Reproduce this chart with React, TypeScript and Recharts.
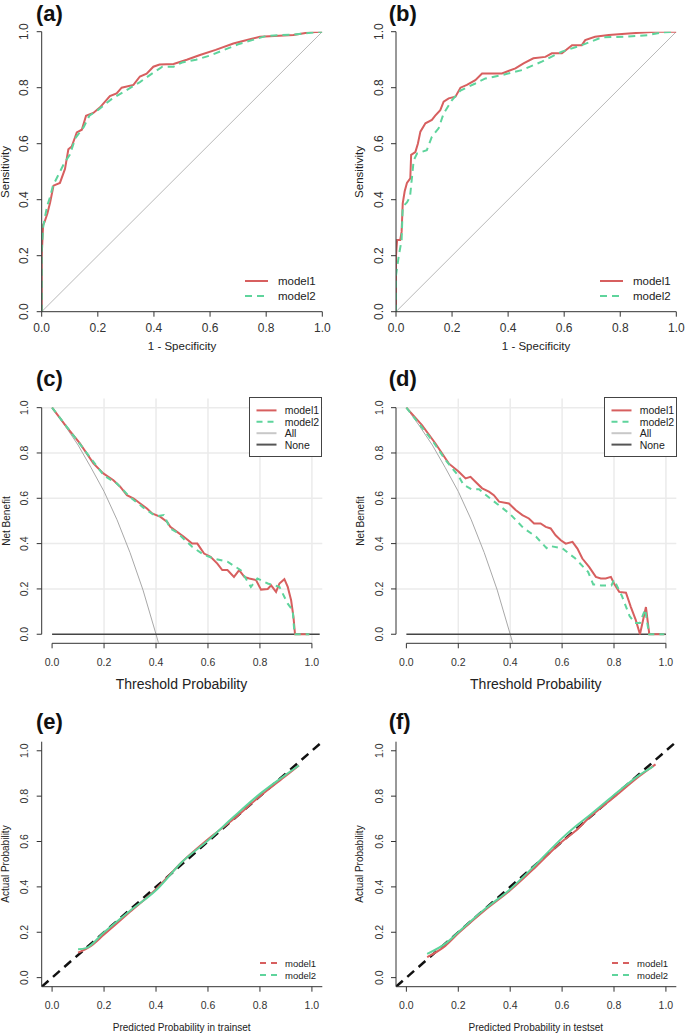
import React from 'react';
import { LineChart, Line, XAxis, YAxis, ReferenceLine, CartesianGrid, Legend } from 'recharts';

const RED = '#d75f5f';
const GREEN = '#5ed49c';
const AXIS = '#333333';
const FONT = '"Liberation Sans", Arial, Helvetica, sans-serif';

const TICKS = [0, 0.2, 0.4, 0.6, 0.8, 1.0];
const GRID_VALUES = [0.2, 0.4, 0.6, 0.8, 1.0];

// ROC, train set (a)
const rocTrainFpr1 = [0, 0, 0.005, 0.01, 0.02, 0.03, 0.042, 0.065, 0.083, 0.095, 0.107, 0.125, 0.143, 0.158, 0.184, 0.208, 0.243, 0.267, 0.285, 0.327, 0.35, 0.374, 0.398, 0.42, 0.47, 0.517, 0.564, 0.62, 0.683, 0.742, 0.778, 0.897, 0.956, 1];
const rocTrainTpr1 = [0, 0.2, 0.31, 0.32, 0.35, 0.39, 0.45, 0.46, 0.51, 0.58, 0.59, 0.64, 0.65, 0.7, 0.71, 0.73, 0.77, 0.78, 0.8, 0.81, 0.84, 0.85, 0.875, 0.883, 0.885, 0.9, 0.917, 0.935, 0.958, 0.973, 0.982, 0.988, 0.998, 1];
const rocTrainFpr2 = [0, 0, 0.005, 0.01, 0.02, 0.03, 0.04, 0.06, 0.08, 0.1, 0.12, 0.15, 0.17, 0.2, 0.25, 0.3, 0.35, 0.4, 0.43, 0.47, 0.5, 0.55, 0.6, 0.65, 0.7, 0.75, 0.8, 0.9, 0.95, 1];
const rocTrainTpr2 = [0, 0.22, 0.3, 0.33, 0.38, 0.41, 0.45, 0.49, 0.53, 0.56, 0.62, 0.66, 0.7, 0.72, 0.76, 0.79, 0.82, 0.855, 0.875, 0.875, 0.89, 0.9, 0.915, 0.935, 0.955, 0.97, 0.985, 0.99, 0.995, 1];

// ROC, test set (b)
const rocTestFpr1 = [0, 0, 0.004, 0.015, 0.02, 0.024, 0.031, 0.039, 0.051, 0.054, 0.069, 0.078, 0.087, 0.105, 0.128, 0.14, 0.158, 0.17, 0.188, 0.212, 0.23, 0.253, 0.283, 0.307, 0.378, 0.426, 0.455, 0.49, 0.533, 0.556, 0.592, 0.628, 0.663, 0.675, 0.71, 0.759, 0.83, 0.925, 1];
const rocTestTpr1 = [0, 0.2, 0.256, 0.256, 0.285, 0.387, 0.43, 0.46, 0.476, 0.56, 0.57, 0.6, 0.643, 0.673, 0.685, 0.7, 0.72, 0.75, 0.762, 0.768, 0.8, 0.81, 0.827, 0.851, 0.851, 0.869, 0.887, 0.905, 0.91, 0.923, 0.923, 0.952, 0.952, 0.97, 0.982, 0.988, 0.994, 1, 1];
const rocTestFpr2 = [0, 0, 0.01, 0.02, 0.024, 0.039, 0.05, 0.063, 0.075, 0.11, 0.128, 0.152, 0.17, 0.2, 0.23, 0.283, 0.319, 0.378, 0.45, 0.52, 0.592, 0.663, 0.735, 0.818, 0.9, 0.95, 1];
const rocTestTpr2 = [0, 0.13, 0.2, 0.256, 0.375, 0.39, 0.41, 0.54, 0.565, 0.577, 0.625, 0.655, 0.708, 0.756, 0.79, 0.815, 0.833, 0.845, 0.863, 0.893, 0.929, 0.952, 0.98, 0.982, 0.988, 0.998, 1];

// decision curves, train set (c)
const dcaTrainT1 = [0, 0.055, 0.107, 0.159, 0.197, 0.236, 0.262, 0.288, 0.314, 0.339, 0.365, 0.385, 0.417, 0.443, 0.455, 0.481, 0.507, 0.539, 0.559, 0.585, 0.61, 0.636, 0.655, 0.675, 0.7, 0.72, 0.74, 0.759, 0.785, 0.804, 0.83, 0.843, 0.862, 0.875, 0.894, 0.907, 0.92, 0.929, 0.935, 0.99];
const dcaTrainNb1 = [1.0, 0.916, 0.842, 0.754, 0.71, 0.68, 0.651, 0.614, 0.599, 0.577, 0.555, 0.533, 0.518, 0.496, 0.474, 0.452, 0.43, 0.4, 0.4, 0.356, 0.342, 0.312, 0.283, 0.283, 0.253, 0.283, 0.253, 0.246, 0.239, 0.197, 0.2, 0.216, 0.187, 0.224, 0.243, 0.209, 0.15, 0.077, 0, 0];
const dcaTrainT2 = [0, 0.1, 0.2, 0.25, 0.3, 0.35, 0.4, 0.43, 0.455, 0.48, 0.539, 0.585, 0.623, 0.675, 0.726, 0.765, 0.79, 0.83, 0.875, 0.907, 0.926, 0.933, 0.99];
const dcaTrainNb2 = [1.0, 0.85, 0.7, 0.665, 0.605, 0.56, 0.52, 0.526, 0.467, 0.45, 0.386, 0.35, 0.334, 0.32, 0.283, 0.209, 0.246, 0.224, 0.209, 0.135, 0.106, 0, 0];

// decision curves, test set (d)
const dcaTestT1 = [0, 0.06, 0.112, 0.163, 0.202, 0.228, 0.247, 0.266, 0.292, 0.318, 0.337, 0.357, 0.395, 0.421, 0.447, 0.472, 0.492, 0.517, 0.537, 0.556, 0.575, 0.595, 0.614, 0.64, 0.659, 0.678, 0.704, 0.73, 0.749, 0.768, 0.788, 0.8, 0.82, 0.846, 0.865, 0.884, 0.9, 0.923, 0.936, 0.994];
const dcaTestNb1 = [1.0, 0.923, 0.842, 0.754, 0.717, 0.688, 0.695, 0.673, 0.644, 0.629, 0.614, 0.585, 0.577, 0.548, 0.526, 0.511, 0.489, 0.489, 0.474, 0.467, 0.437, 0.415, 0.4, 0.408, 0.378, 0.334, 0.297, 0.253, 0.246, 0.246, 0.253, 0.224, 0.187, 0.183, 0.12, 0.062, 0, 0.12, 0, 0];
const dcaTestT2 = [0, 0.1, 0.15, 0.2, 0.22, 0.25, 0.28, 0.3, 0.35, 0.4, 0.45, 0.5, 0.54, 0.55, 0.6, 0.65, 0.7, 0.72, 0.73, 0.75, 0.79, 0.8, 0.83, 0.86, 0.88, 0.9, 0.92, 0.935, 0.994];
const dcaTestNb2 = [1.0, 0.855, 0.77, 0.7, 0.66, 0.64, 0.64, 0.62, 0.575, 0.53, 0.47, 0.43, 0.38, 0.39, 0.38, 0.335, 0.275, 0.22, 0.22, 0.215, 0.215, 0.24, 0.17, 0.08, 0.05, 0.05, 0.11, 0, 0];

// "treat all" reference curve (same in c and d)
const allT = [0, 0.05, 0.1, 0.15, 0.2, 0.25, 0.3, 0.35, 0.4, 0.41];
const allNb = [1.0, 0.92, 0.835, 0.735, 0.63, 0.505, 0.36, 0.195, 0.0, -0.04];

// calibration, train set (e)
const calTrainP1 = [0.1, 0.15, 0.2, 0.3, 0.4, 0.5, 0.6, 0.7, 0.8, 0.9, 0.95];
const calTrainO1 = [0.11, 0.14, 0.19, 0.29, 0.39, 0.51, 0.61, 0.7, 0.8, 0.89, 0.935];
const calTrainP2 = [0.1, 0.13, 0.2, 0.3, 0.4, 0.5, 0.6, 0.7, 0.8, 0.9, 0.95];
const calTrainO2 = [0.125, 0.13, 0.2, 0.295, 0.385, 0.51, 0.605, 0.71, 0.81, 0.895, 0.935];

// calibration, test set (f)
const calTestP1 = [0.08, 0.15, 0.2, 0.3, 0.4, 0.5, 0.6, 0.65, 0.7, 0.8, 0.9, 0.96];
const calTestO1 = [0.09, 0.14, 0.195, 0.295, 0.385, 0.49, 0.6, 0.645, 0.7, 0.795, 0.89, 0.94];
const calTestP2 = [0.08, 0.15, 0.2, 0.3, 0.4, 0.5, 0.6, 0.65, 0.7, 0.8, 0.9, 0.95];
const calTestO2 = [0.105, 0.15, 0.2, 0.3, 0.39, 0.5, 0.615, 0.665, 0.71, 0.805, 0.895, 0.93];

const pts = (xs: number[], ys: number[]) => xs.map((x, i) => ({ x, y: ys[i] }));

type Box = { left: number; top: number; width: number; height: number; plotL: number; plotT: number; plotR: number; plotB: number };

const COL_L = { left: 0, width: 342, plotL: 41.7, plotR: 322.3 };
const COL_R = { left: 342, width: 343, plotL: 396, plotR: 676.3 };
const ROW_1 = { top: 0, height: 345, plotT: 31.7, plotB: 311.7 };
const ROW_2 = { top: 345, height: 345, plotT: 398.6, plotB: 643.3 };
const ROW_3 = { top: 690, height: 345, plotT: 741.7, plotB: 986.7 };

// R draws y tick labels parallel to the axis
const yTick = (cx: number, fs: number) => (p: any) => (
  <g transform={`translate(${cx},${p.y}) rotate(-90)`}>
    <text x={0} y={0} textAnchor="middle" dominantBaseline="central"
      fontSize={fs} fill={AXIS} fontFamily={FONT}>{Number(p.payload.value).toFixed(1)}</text>
  </g>
);
const xTick = (cy: number, fs: number) => (p: any) => (
  <text x={p.x} y={cy} textAnchor="middle" dominantBaseline="central"
    fontSize={fs} fill={AXIS} fontFamily={FONT}>{Number(p.payload.value).toFixed(1)}</text>
);

type LegendItem = { label: string; color: string; dash?: string };

const LegendBox = ({ items, lineLen, textX, rowH, firstY, fs, width, height, framed }: any) => (
  <svg width={width} height={height} style={{ display: 'block', overflow: 'visible' }}>
    {framed && <rect x={0.5} y={0.5} width={width - 1} height={height - 1} fill="white" stroke="#444" strokeWidth={1} />}
    {items.map((it: LegendItem, i: number) => (
      <g key={it.label}>
        <line x1={framed ? 7.5 : 0} x2={(framed ? 7.5 : 0) + lineLen} y1={firstY + i * rowH} y2={firstY + i * rowH}
          stroke={it.color} strokeWidth={2} strokeDasharray={it.dash} />
        <text x={textX} y={firstY + i * rowH} dominantBaseline="central" fontSize={fs} fill="#222" fontFamily={FONT}>{it.label}</text>
      </g>
    ))}
  </svg>
);

type Series = { data: { x: number; y: number }[]; color: string; width: number; dash?: string; curve?: 'linear' | 'monotone' };

type PanelProps = {
  box: Box;
  domain: [number, number];
  series: Series[];
  tickFont: number;
  xTickDy: number;
  shortAxes?: boolean;
  grid?: boolean;
  legend: any;
};

function Panel({ box, domain, series, tickFont, xTickDy, shortAxes, grid, legend }: PanelProps) {
  const yW = box.plotL - box.left;
  const xH = box.top + box.height - box.plotB;
  const margin = { top: box.plotT - box.top, right: box.left + box.width - box.plotR, left: 0, bottom: 0 };
  const axisLine = shortAxes ? false : { stroke: AXIS, strokeWidth: 1 };
  return (
    <div style={{ position: 'absolute', left: box.left, top: box.top }}>
      <LineChart width={box.width} height={box.height} margin={margin}>
        {grid && (
          <CartesianGrid stroke="#ebebeb" strokeWidth={1.5} verticalValues={GRID_VALUES} horizontalValues={GRID_VALUES} />
        )}
        <XAxis type="number" dataKey="x" domain={domain} ticks={TICKS} interval={0} allowDataOverflow
          height={xH} tickSize={5} axisLine={axisLine} tickLine={{ stroke: AXIS }}
          tick={xTick(box.plotB - box.top + xTickDy, tickFont)} />
        <YAxis type="number" dataKey="y" domain={domain} ticks={TICKS} interval={0} allowDataOverflow
          width={yW} tickSize={5} axisLine={axisLine} tickLine={{ stroke: AXIS }}
          tick={yTick(yW - 17.5, tickFont)} />
        {shortAxes && (
          <ReferenceLine segment={[{ x: domain[0], y: 0 }, { x: domain[0], y: 1 }]} stroke={AXIS} strokeWidth={1} ifOverflow="visible" />
        )}
        {shortAxes && (
          <ReferenceLine segment={[{ x: 0, y: domain[0] }, { x: 1, y: domain[0] }]} stroke={AXIS} strokeWidth={1} ifOverflow="visible" />
        )}
        {series.map((s, i) => (
          <Line key={i} data={s.data} dataKey="y" type={s.curve || 'linear'} stroke={s.color} strokeWidth={s.width}
            strokeDasharray={s.dash} dot={false} activeDot={false} isAnimationActive={false} />
        ))}
        <Legend layout="vertical" align="center" verticalAlign="middle"
          wrapperStyle={{ left: legend.left - box.left, top: legend.top - box.top, width: legend.width, height: legend.height }}
          content={() => <LegendBox {...legend} />} />
      </LineChart>
    </div>
  );
}

const Txt = ({ x, y, size, bold, rotate, children }: any) => (
  <div style={{
    position: 'absolute', left: x, top: y, transform: `translate(-50%, -50%)${rotate ? ' rotate(-90deg)' : ''}`,
    fontFamily: FONT, fontSize: size, fontWeight: bold ? 'bold' : 'normal', color: '#222', whiteSpace: 'nowrap', lineHeight: 1,
  }}>{children}</div>
);

const Tag = ({ x, y, children }: any) => (
  <div style={{ position: 'absolute', left: x, top: y, transform: 'translateY(-50%)', fontFamily: FONT, fontSize: 22, fontWeight: 'bold', color: '#111', lineHeight: 1 }}>
    {children}
  </div>
);

const rocLegend: LegendItem[] = [
  { label: 'model1', color: RED },
  { label: 'model2', color: GREEN, dash: '7 5' },
];
const dcaLegend: LegendItem[] = [
  { label: 'model1', color: RED },
  { label: 'model2', color: GREEN, dash: '6 5' },
  { label: 'All', color: '#c8c8c8' },
  { label: 'None', color: '#555555' },
];
const calLegend: LegendItem[] = [
  { label: 'model1', color: RED, dash: '6 5' },
  { label: 'model2', color: GREEN, dash: '6 5' },
];

const diag = pts([0, 1], [0, 1]);
const diagCal = pts([-0.04, 1.04], [-0.04, 1.04]);
const allCurve = pts(allT, allNb);

export default function App() {
  const A: Box = { ...COL_L, ...ROW_1 };
  const B: Box = { ...COL_R, ...ROW_1 };
  const C: Box = { ...COL_L, ...ROW_2 };
  const D: Box = { ...COL_R, ...ROW_2 };
  const E: Box = { ...COL_L, ...ROW_3 };
  const F: Box = { ...COL_R, ...ROW_3 };
  const dcaDomain: [number, number] = [-0.04, 1.04];

  const rocSeries = (f1: number[], t1: number[], f2: number[], t2: number[]): Series[] => [
    { data: diag, color: '#b8b8b8', width: 1 },
    { data: pts(f1, t1), color: RED, width: 2 },
    { data: pts(f2, t2), color: GREEN, width: 2, dash: '7 5' },
  ];
  const dcaSeries = (t1: number[], n1: number[], t2: number[], n2: number[], noneEnd: number): Series[] => [
    { data: allCurve, color: '#a8a8a8', width: 1 },
    { data: pts([0, noneEnd], [0, 0]), color: '#444444', width: 1.5 },
    { data: pts(t1, n1), color: RED, width: 2 },
    { data: pts(t2, n2), color: GREEN, width: 2, dash: '6 5' },
  ];
  const calSeries = (p1: number[], o1: number[], p2: number[], o2: number[]): Series[] => [
    { data: diagCal, color: '#111111', width: 2.5, dash: '9 6' },
    { data: pts(p1, o1), color: RED, width: 2, curve: 'monotone' },
    { data: pts(p2, o2), color: GREEN, width: 2, curve: 'monotone' },
  ];

  const rocLeg = (left: number) => ({ items: rocLegend, left, top: 273, width: 90, height: 32, lineLen: 23, textX: 33, rowH: 15, firstY: 8, fs: 11.5, framed: false });
  const dcaLeg = (left: number) => ({ items: dcaLegend, left, top: 397.3, width: 73, height: 60, lineLen: 20, textX: 35.7, rowH: 11.4, firstY: 13.4, fs: 10.5, framed: true });
  const calLeg = (left: number) => ({ items: calLegend, left, top: 957, width: 80, height: 24, lineLen: 17, textX: 25, rowH: 12, firstY: 6, fs: 9.5, framed: false });

  return (
    <div style={{ position: 'absolute', left: 0, top: 0, width: 685, height: 1035, background: 'white', overflow: 'hidden' }}>
      <Panel box={A} domain={[0, 1]} series={rocSeries(rocTrainFpr1, rocTrainTpr1, rocTrainFpr2, rocTrainTpr2)} tickFont={12} xTickDy={16.5} legend={rocLeg(245)} />
      <Panel box={B} domain={[0, 1]} series={rocSeries(rocTestFpr1, rocTestTpr1, rocTestFpr2, rocTestTpr2)} tickFont={12} xTickDy={16.5} legend={rocLeg(600)} />
      <Panel box={C} domain={dcaDomain} series={dcaSeries(dcaTrainT1, dcaTrainNb1, dcaTrainT2, dcaTrainNb2, 1.03)} tickFont={10.5} xTickDy={18.4} shortAxes grid legend={dcaLeg(249.3)} />
      <Panel box={D} domain={dcaDomain} series={dcaSeries(dcaTestT1, dcaTestNb1, dcaTestT2, dcaTestNb2, 1.0)} tickFont={10.5} xTickDy={18.4} shortAxes grid legend={dcaLeg(603.7)} />
      <Panel box={E} domain={dcaDomain} series={calSeries(calTrainP1, calTrainO1, calTrainP2, calTrainO2)} tickFont={10.5} xTickDy={18.3} legend={calLeg(260)} />
      <Panel box={F} domain={dcaDomain} series={calSeries(calTestP1, calTestO1, calTestP2, calTestO2)} tickFont={10.5} xTickDy={18.3} legend={calLeg(612)} />

      <Tag x={36} y={14}>(a)</Tag>
      <Tag x={388.7} y={14}>(b)</Tag>
      <Tag x={36} y={379}>(c)</Tag>
      <Tag x={388.7} y={379}>(d)</Tag>
      <Tag x={36} y={722}>(e)</Tag>
      <Tag x={388.7} y={722}>(f)</Tag>

      <Txt x={6} y={171.7} size={11.5} rotate>Sensitivity</Txt>
      <Txt x={360} y={171.7} size={11.5} rotate>Sensitivity</Txt>
      <Txt x={182} y={347.3} size={11.5}>1 - Specificity</Txt>
      <Txt x={536} y={347.3} size={11.5}>1 - Specificity</Txt>

      <Txt x={6.5} y={521} size={10} rotate>Net Benefit</Txt>
      <Txt x={360.5} y={521} size={10} rotate>Net Benefit</Txt>
      <Txt x={181.5} y={684} size={14}>Threshold Probability</Txt>
      <Txt x={535.8} y={684} size={14}>Threshold Probability</Txt>

      <Txt x={6} y={864} size={10} rotate>Actual Probability</Txt>
      <Txt x={360.3} y={864} size={10} rotate>Actual Probability</Txt>
      <Txt x={181.7} y={1028} size={10}>Predicted Probability in trainset</Txt>
      <Txt x={535.8} y={1028} size={10}>Predicted Probability in testset</Txt>
    </div>
  );
}
